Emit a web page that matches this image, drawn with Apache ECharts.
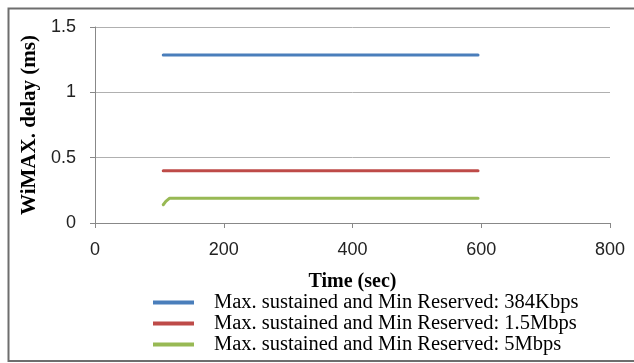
<!DOCTYPE html>
<html><head><meta charset="utf-8">
<script src="https://cdn.jsdelivr.net/npm/echarts@6/dist/echarts.min.js"></script>
<style>html,body{margin:0;padding:0;background:#fff}#c{width:634px;height:363px}</style>
</head><body><div id="c"></div>
<script>
var seriesNames = ['Max. sustained and Min Reserved: 384Kbps','Max. sustained and Min Reserved: 1.5Mbps','Max. sustained and Min Reserved: 5Mbps'];
var times = [106, 110, 116, 200, 300, 400, 500, 595];
var delay384K = [1.285, 1.285, 1.285, 1.285, 1.285, 1.285, 1.285, 1.285];
var delay1_5M = [0.40, 0.40, 0.40, 0.40, 0.40, 0.40, 0.40, 0.40];
var delay5M   = [0.14, 0.165, 0.19, 0.19, 0.19, 0.19, 0.19, 0.19];
var colors = ['#4a7ebb', '#be4b48', '#98b954'];

function pairs(xs, ys){ return xs.map(function(x,i){ return [x, ys[i]]; }); }
var allY = [delay384K, delay1_5M, delay5M];

var chart = echarts.init(document.getElementById('c'));
chart.setOption({
  animation: false,
  backgroundColor: '#fff',
  grid: {left: 95, right: 24, top: 27, bottom: 140},
  graphic: [{type: 'rect', shape: {x: 8.5, y: 8.5, width: 640, height: 352.5},
             style: {fill: 'none', stroke: '#6e6e6e', lineWidth: 2}, silent: true}],
  xAxis: {type: 'value', min: 0, max: 800, interval: 200,
    name: 'Time (sec)', nameLocation: 'middle', nameGap: 49,
    nameTextStyle: {fontFamily: 'Liberation Serif', fontWeight: 'bold', fontSize: 20, color: '#000'},
    axisLine: {show: true, lineStyle: {color: '#888', width: 1}},
    axisTick: {show: true, length: 5, lineStyle: {color: '#888'}},
    axisLabel: {fontFamily: 'Liberation Sans', fontSize: 18, color: '#222', margin: 18},
    splitLine: {show: false}},
  yAxis: {type: 'value', min: 0, max: 1.5, interval: 0.5,
    name: 'WiMAX. delay (ms)', nameLocation: 'middle', nameGap: 53, nameRotate: 90,
    nameTextStyle: {fontFamily: 'Liberation Serif', fontWeight: 'bold', fontSize: 21, color: '#000'},
    axisLine: {show: true, lineStyle: {color: '#888', width: 1}},
    axisTick: {show: true, length: 5, lineStyle: {color: '#888'}},
    axisLabel: {fontFamily: 'Liberation Sans', fontSize: 18, color: '#222', margin: 19},
    splitLine: {show: true, lineStyle: {color: '#b0b0b0', width: 1}}},
  legend: {orient: 'vertical', left: 148, top: 287, itemWidth: 41, itemHeight: 4, itemGap: 0,
    icon: 'rect',
    textStyle: {fontFamily: 'Liberation Serif', fontSize: 20.5, lineHeight: 20, color: '#000', padding: [0,0,0,15]},
    data: seriesNames},
  series: seriesNames.map(function(n, i){
    return {name: n, type: 'line', data: pairs(times, allY[i]), showSymbol: false, symbol: 'none',
      lineStyle: {width: 3, color: colors[i], cap: 'round'}, itemStyle: {color: colors[i]}};
  })
});
</script></body></html>
